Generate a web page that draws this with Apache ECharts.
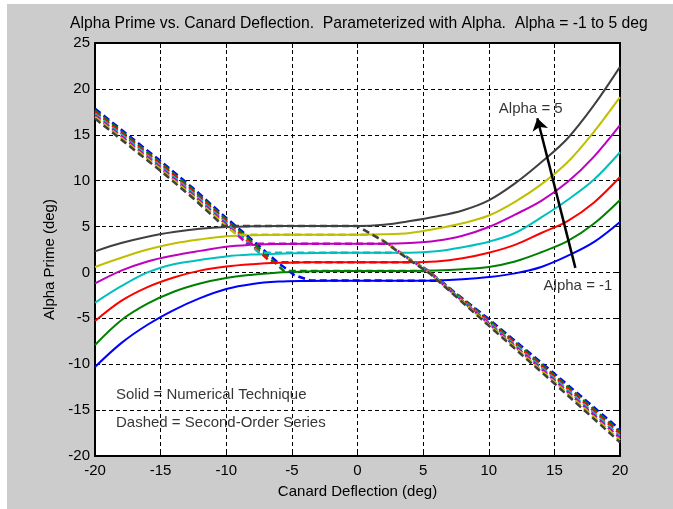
<!DOCTYPE html>
<html>
<head>
<meta charset="utf-8">
<title>Alpha Prime vs. Canard Deflection</title>
<script src="https://cdn.jsdelivr.net/npm/echarts@6/dist/echarts.min.js"></script>
<style>
  html, body { margin: 0; padding: 0; background: #ffffff; }
  #chart { position: absolute; left: 7px; top: 4px; width: 666px; height: 505px; background: #cccccc; }
</style>
</head>
<body>
<div id="chart"></div>
<script>
// canard deflection (deg) used by the solid curves
const deflection = [-20, -18, -16, -14, -12, -10, -8, -6, -4, -2, 0, 2, 4, 6, 8, 10, 12, 14, 16, 18, 20]

// solid = numerical technique, one array per alpha
const numAlphaM1 = [-10.3, -7.7, -5.7, -4.1, -2.8, -1.8, -1.25, -1.0, -0.92, -0.9, -0.9, -0.9, -0.9, -0.88, -0.75, -0.5, -0.1, 0.6, 1.8, 3.3, 5.5]
const numAlpha0 = [-7.9, -5.2, -3.4, -2.1, -1.2, -0.6, -0.25, 0.0, 0.1, 0.15, 0.15, 0.15, 0.15, 0.2, 0.35, 0.6, 1.2, 2.2, 3.4, 5.3, 7.9]
const numAlpha1 = [-5.3, -3.1, -1.6, -0.55, 0.2, 0.65, 0.9, 1.05, 1.1, 1.12, 1.12, 1.12, 1.12, 1.2, 1.55, 2.15, 3.0, 4.3, 5.6, 7.6, 10.4]
const numAlpha2 = [-3.3, -1.5, 0.0, 0.9, 1.35, 1.75, 1.95, 2.05, 2.1, 2.15, 2.15, 2.15, 2.15, 2.3, 2.75, 3.35, 4.3, 6.0, 7.9, 10.1, 13.1]
const numAlpha3 = [-1.2, 0.2, 1.2, 1.85, 2.35, 2.8, 3.0, 3.1, 3.12, 3.12, 3.12, 3.12, 3.2, 3.45, 4.0, 4.95, 6.3, 7.8, 9.85, 12.6, 16.05]
const numAlpha4 = [0.6, 1.6, 2.5, 3.15, 3.6, 3.95, 4.05, 4.1, 4.12, 4.12, 4.12, 4.15, 4.3, 4.75, 5.35, 6.2, 7.7, 9.6, 12.0, 15.3, 19.1]
const numAlpha5 = [2.3, 3.2, 3.9, 4.4, 4.75, 4.95, 5.02, 5.05, 5.05, 5.05, 5.05, 5.2, 5.6, 6.1, 6.75, 7.85, 9.7, 12.0, 14.6, 18.2, 22.4]

// dashed = second-order series, [deflection, alpha prime] per alpha
const serAlphaM1 = [[-20, 17.84], [-15, 12.14], [-12.5, 9.14], [-10, 5.94], [-8, 3.5], [-6, 1.0], [-4.8, -0.3], [-3.6, -0.88], [6.35, -0.9], [7, -1.7], [10, -5.08], [15, -11.02], [20, -17.12]]
const serAlpha0 = [[-20, 17.66], [-15, 11.96], [-12.5, 8.96], [-10, 5.76], [-8, 3.3], [-5.6, 0.15], [5.4, 0.15], [7, -1.75], [10, -5.2], [15, -11.2], [20, -17.35]]
const serAlpha1 = [[-20, 17.48], [-15, 11.78], [-12.5, 8.78], [-10, 5.58], [-6.6, 1.12], [4.4, 1.12], [5.5, 0.1], [7, -1.8], [10, -5.32], [15, -11.38], [20, -17.58]]
const serAlpha2 = [[-20, 17.3], [-15, 11.6], [-12.5, 8.6], [-10, 5.4], [-7.5, 2.15], [3.33, 2.15], [4, 1.45], [5.5, 0.05], [7, -1.85], [10, -5.44], [15, -11.56], [20, -17.81]]
const serAlpha3 = [[-20, 17.12], [-15, 11.42], [-12.5, 8.42], [-10, 5.22], [-8.4, 3.12], [2.35, 3.12], [4, 1.4], [5.5, 0.0], [7, -1.9], [10, -5.56], [15, -11.74], [20, -18.04]]
const serAlpha4 = [[-20, 16.94], [-15, 11.24], [-12.5, 8.24], [-10, 5.04], [-9.2, 4.12], [1.2, 4.12], [2, 3.45], [4, 1.35], [5.5, -0.05], [7, -1.95], [10, -5.68], [15, -11.92], [20, -18.27]]
const serAlpha5 = [[-20, 16.76], [-15, 11.06], [-12.5, 8.06], [-10.2, 5.05], [0, 5.05], [2, 3.4], [4, 1.3], [5.5, -0.1], [7, -2.0], [10, -5.8], [15, -12.1], [20, -18.5]]

const alphaColors = ['#0000ff', '#008000', '#ff0000', '#00bfbf', '#bf00bf', '#bfbf00', '#404040']
const numCurves = [numAlphaM1, numAlpha0, numAlpha1, numAlpha2, numAlpha3, numAlpha4, numAlpha5]
const serCurves = [serAlphaM1, serAlpha0, serAlpha1, serAlpha2, serAlpha3, serAlpha4, serAlpha5]

// text notes and the arrow, in data units
const noteText = ['Alpha = 5', 'Alpha = -1', 'Solid = Numerical Technique', 'Dashed = Second-Order Series']
const notePos = [[13.2, 17.8], [16.8, -1.5], [-18.4, -13.35], [-18.4, -16.4]]
const arrowFrom = [16.6, 0.5]
const arrowTo = [13.7, 16.8]

const font = "'Liberation Sans', Arial, sans-serif"
const txt = '#000000'
const chart = echarts.init(document.getElementById('chart'))

const boxAxis = {
  type: 'value',
  axisLine: { show: true, onZero: false, lineStyle: { color: '#000', width: 2 } },
  axisTick: { show: true, inside: true, length: 5, lineStyle: { color: '#000', width: 1 } }
}

const series = []
numCurves.forEach((vals, k) => {
  series.push({
    type: 'line',
    data: deflection.map((d, i) => [d, vals[i]]),
    smooth: 0.35,
    symbol: 'none',
    silent: true,
    lineStyle: { color: alphaColors[k], width: 2 }
  })
})
serCurves.forEach((pts, k) => {
  series.push({
    type: 'line',
    data: pts,
    symbol: 'none',
    silent: true,
    lineStyle: { color: alphaColors[k], width: 2.5, type: [7, 4] }
  })
})
// text notes
series.push({
  type: 'scatter',
  silent: true,
  symbolSize: 0,
  itemStyle: { color: '#000' },
  data: noteText.map((t, i) => ({
    value: notePos[i],
    label: {
      show: true,
      formatter: t,
      position: i < 2 ? 'inside' : 'right',
      distance: 0,
      color: txt,
      fontSize: 15,
      fontFamily: font
    }
  }))
})
// arrow from "Alpha = -1" up to "Alpha = 5"
series.push({
  type: 'line',
  silent: true,
  data: [],
  itemStyle: { color: '#000' },
  lineStyle: { color: '#000' },
  markLine: {
    silent: true,
    symbol: ['none', 'arrow'],
    symbolSize: 12,
    label: { show: false },
    lineStyle: { color: '#000', width: 2.5, type: 'solid' },
    data: [[{ coord: arrowFrom }, { coord: arrowTo }]]
  }
})

chart.setOption({
  animation: false,
  title: {
    text: 'Alpha Prime vs. Canard Deflection.  Parameterized with Alpha.  Alpha = -1 to 5 deg',
    left: 58,
    top: 7,
    textStyle: { fontSize: 15.7, fontWeight: 'normal', color: txt, fontFamily: font }
  },
  grid: { left: 88, right: 53, top: 39, bottom: 53, show: true, backgroundColor: '#ffffff', borderWidth: 0 },
  xAxis: [
    Object.assign({}, boxAxis, {
      position: 'bottom',
      min: -20,
      max: 20,
      interval: 5,
      name: 'Canard Deflection (deg)',
      nameLocation: 'middle',
      nameGap: 28,
      nameTextStyle: { fontSize: 15, color: txt, fontFamily: font },
      axisLabel: { margin: 7, fontSize: 15, color: txt, fontFamily: font },
      splitLine: { show: true, lineStyle: { color: '#000', width: 1, type: [4, 3] } }
    }),
    Object.assign({}, boxAxis, { position: 'top', min: -20, max: 20, interval: 5, axisLabel: { show: false }, splitLine: { show: false } })
  ],
  yAxis: [
    Object.assign({}, boxAxis, {
      position: 'left',
      min: -20,
      max: 25,
      interval: 5,
      name: 'Alpha Prime (deg)',
      nameLocation: 'middle',
      nameGap: 37,
      nameTextStyle: { fontSize: 15, color: txt, fontFamily: font, padding: [0, 20, 0, 0] },
      axisLabel: { margin: 5, fontSize: 15, color: txt, fontFamily: font, padding: [6, 0, 0, 0] },
      splitLine: { show: true, lineStyle: { color: '#000', width: 1, type: [4, 3] } }
    }),
    Object.assign({}, boxAxis, { position: 'right', min: -20, max: 25, interval: 5, axisLabel: { show: false }, splitLine: { show: false } })
  ],
  series: series
})
</script>
</body>
</html>
